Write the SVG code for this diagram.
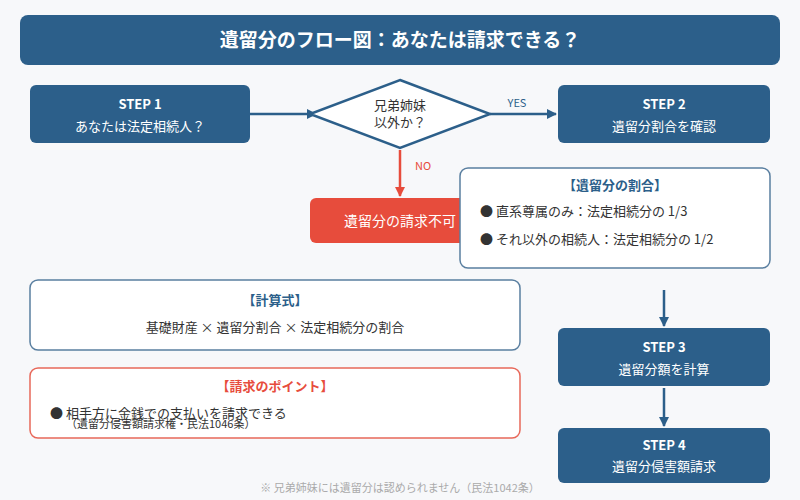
<svg xmlns="http://www.w3.org/2000/svg" width="800" height="500" viewBox="0 0 800 500">
<style>
text{font-family:"Noto Sans CJK JP","Noto Sans",sans-serif}
.nb{fill:#2c5f8a}
.w{fill:#fff;font-size:13px}
.wb{fill:#fff;font-size:13px;font-weight:bold}
.d{fill:#333;font-size:13px}
.c{stroke:#2c5f8a;stroke-width:2.5;fill:none}
</style>
<defs>
<marker id="a" viewBox="0 0 10 10" refX="9" refY="5" markerWidth="4" markerHeight="4" orient="auto"><path d="M0,0L10,5L0,10z" fill="#2c5f8a"/></marker>
<marker id="r" viewBox="0 0 10 10" refX="9" refY="5" markerWidth="4" markerHeight="4" orient="auto"><path d="M0,0L10,5L0,10z" fill="#e74c3c"/></marker>
</defs>
<rect width="800" height="500" fill="#f7f8fa"/>
<g id="title"><rect x="20" y="15" width="760" height="50" rx="8" class="nb"/><text x="400" y="47" text-anchor="middle" fill="#fff" font-size="19" font-weight="bold">遺留分のフロー図：あなたは請求できる？</text></g>
<g id="connectors">
<line x1="250" y1="114" x2="316" y2="114" class="c" marker-end="url(#a)"/>
<line x1="490" y1="114" x2="556" y2="114" class="c" marker-end="url(#a)"/>
<text x="517" y="107" text-anchor="middle" fill="#2c5f8a" font-size="11">YES</text>
<line x1="400" y1="150" x2="400" y2="196" stroke="#e74c3c" stroke-width="2.5" marker-end="url(#r)"/>
<text x="415" y="170" fill="#e74c3c" font-size="11">NO</text>
<line x1="664" y1="290" x2="664" y2="326" class="c" marker-end="url(#a)"/>
<line x1="664" y1="388" x2="664" y2="426" class="c" marker-end="url(#a)"/>
</g>
<g id="step1"><rect x="30" y="85" width="220" height="58" rx="6" class="nb"/><text x="140" y="109" text-anchor="middle" class="wb">STEP 1</text><text x="140" y="131" text-anchor="middle" class="w">あなたは法定相続人？</text></g>
<g id="decision"><polygon points="400,80 490,114 400,148 310,114" fill="#fff" stroke="#2c5f8a" stroke-width="2.5"/><text x="400" y="110" text-anchor="middle" class="d">兄弟姉妹</text><text x="400" y="127" text-anchor="middle" class="d">以外か？</text></g>
<g id="step2"><rect x="558" y="85" width="212" height="58" rx="6" class="nb"/><text x="664" y="109" text-anchor="middle" class="wb">STEP 2</text><text x="664" y="131" text-anchor="middle" class="w">遺留分割合を確認</text></g>
<g id="no"><rect x="310" y="198" width="180" height="45" rx="6" fill="#e74c3c"/><text x="400" y="226" text-anchor="middle" fill="#fff" font-size="14">遺留分の請求不可</text></g>
<g id="ratio"><rect x="460" y="168" width="310" height="100" rx="8" fill="#fff" stroke="#5a7fa0" stroke-width="1.5"/><text x="615" y="190" text-anchor="middle" fill="#2c5f8a" font-size="13" font-weight="bold">【遺留分の割合】</text><text x="480" y="216" class="d">● 直系尊属のみ：法定相続分の 1/3</text><text x="480" y="244" class="d">● それ以外の相続人：法定相続分の 1/2</text></g>
<g id="formula"><rect x="30" y="280" width="490" height="70" rx="8" fill="#fff" stroke="#5a7fa0" stroke-width="1.5"/><text x="275" y="305" text-anchor="middle" fill="#2c5f8a" font-size="13" font-weight="bold">【計算式】</text><text x="275" y="332" text-anchor="middle" class="d">基礎財産 × 遺留分割合 × 法定相続分の割合</text></g>
<g id="point"><rect x="30" y="368" width="490" height="70" rx="8" fill="#fff" stroke="#e8685a" stroke-width="1.5"/><text x="275" y="391" text-anchor="middle" fill="#e74c3c" font-size="13" font-weight="bold">【請求のポイント】</text><text x="50" y="418" class="d" font-size="14">● 相手方に金銭での支払いを請求できる</text><text x="66" y="428" fill="#333" font-size="11">（遺留分侵害額請求権・民法1046条）</text></g>
<g id="step3"><rect x="558" y="328" width="212" height="58" rx="6" class="nb"/><text x="664" y="352" text-anchor="middle" class="wb">STEP 3</text><text x="664" y="374" text-anchor="middle" class="w">遺留分額を計算</text></g>
<g id="step4"><rect x="558" y="428" width="212" height="55" rx="6" class="nb"/><text x="664" y="450" text-anchor="middle" class="wb">STEP 4</text><text x="664" y="471" text-anchor="middle" class="w">遺留分侵害額請求</text></g>
<text x="400" y="492" text-anchor="middle" fill="#aaa" font-size="11">※ 兄弟姉妹には遺留分は認められません（民法1042条）</text>
</svg>
